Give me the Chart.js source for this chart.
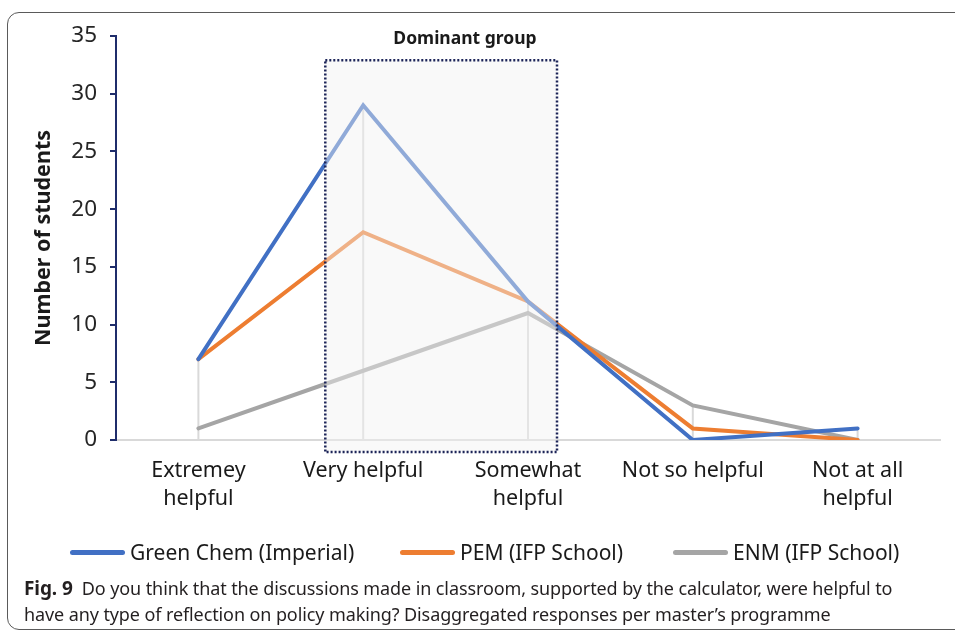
<!DOCTYPE html>
<html>
<head>
<meta charset="utf-8">
<script src="https://cdn.jsdelivr.net/npm/chart.js@4/dist/chart.umd.min.js"></script>
<style>
  html, body { margin: 0; padding: 0; background: #fff; width: 955px; height: 632px; overflow: hidden; }
  #frame { position: absolute; left: 7px; top: 12px; width: 980px; height: 618px; border: 1.5px solid #5a5a5a; border-radius: 12px; box-sizing: border-box; }
  #wrap { position: absolute; left: 0; top: 0; width: 955px; height: 575px; }
  #dom { position: absolute; left: 345px; width: 240px; top: 25px; text-align: center; font: bold 17.5px "Noto Sans", sans-serif; color: #1a1a1a; }
  #cap { position: absolute; left: 24px; top: 575px; font: 18px "Noto Sans", sans-serif; line-height: 26px; color: #231f20; white-space: nowrap; letter-spacing: -0.1px; }
  #cap b { font-weight: bold; font-size: 19px; }
  #legend { position: absolute; left: 0; top: 537px; width: 955px; height: 30px; font: 21px "Noto Sans", sans-serif; color: #1a1a1a; }
  .item { position: absolute; top: 0; display: flex; align-items: center; height: 30px; white-space: nowrap; }
  .sw { display: inline-block; width: 55px; height: 5px; border-radius: 3px; margin-right: 5px; }
</style>
</head>
<body>
<div id="frame"></div>
<div id="wrap"><canvas id="c" width="955" height="575"></canvas></div>
<div id="dom">Dominant group</div>
<div id="legend"></div>
<div id="cap"><b>Fig. 9</b>&nbsp; Do you think that the discussions made in classroom, supported by the calculator, were helpful to<br>have any type of reflection on policy making? Disaggregated responses per master’s programme</div>
<script>
const categories = [["Extremey", "helpful"], "Very helpful", ["Somewhat", "helpful"], "Not so helpful", ["Not at all", "helpful"]];
const seriesNames = ["Green Chem (Imperial)", "PEM (IFP School)", "ENM (IFP School)"];
const greenChem = [7, 29, 12, 0, 1];
const pem = [7, 18, 12, 1, 0];
const enm = [1, 6, 11, 3, 0];
const yTicks = [0, 5, 10, 15, 20, 25, 30, 35];

const FONT = '"Noto Sans", sans-serif';
const colors = ['#4170c4', '#ed7d31', '#a5a5a5'];
const legendX = [70, 400, 673];

const dropLines = {
  id: 'dropLines',
  beforeDatasetsDraw(chart) {
    const { ctx, scales: { x, y } } = chart;
    const n = chart.data.labels.length;
    ctx.save();
    ctx.strokeStyle = '#d9d9d9';
    ctx.lineWidth = 2;
    for (let i = 0; i < n; i++) {
      const m = Math.max(...chart.data.datasets.map(d => d.data[i]));
      const px = x.getPixelForValue(i);
      ctx.beginPath();
      ctx.moveTo(px, y.getPixelForValue(m));
      ctx.lineTo(px, y.getPixelForValue(0));
      ctx.stroke();
    }
    ctx.restore();
  }
};

const groupBox = {
  id: 'groupBox',
  afterDatasetsDraw(chart) {
    const { ctx, scales: { x, y } } = chart;
    const x0 = x.getPixelForValue(0.77), x1 = x.getPixelForValue(2.176);
    const y0 = y.getPixelForValue(32.9), y1 = y.getPixelForValue(-1.05);
    ctx.save();
    ctx.fillStyle = 'rgba(242,242,242,0.45)';
    ctx.fillRect(x0, y0, x1 - x0, y1 - y0);
    ctx.strokeStyle = '#1c2458';
    ctx.lineWidth = 2.5;
    ctx.setLineDash([2, 2]);
    ctx.strokeRect(x0, y0, x1 - x0, y1 - y0);
    ctx.restore();
  }
};

const chart = new Chart(document.getElementById('c'), {
  type: 'line',
  data: {
    labels: categories,
    datasets: [
      { label: seriesNames[0], data: greenChem, borderColor: colors[0], backgroundColor: colors[0] },
      { label: seriesNames[1], data: pem, borderColor: colors[1], backgroundColor: colors[1] },
      { label: seriesNames[2], data: enm, borderColor: colors[2], backgroundColor: colors[2] }
    ]
  },
  options: {
    responsive: false,
    animation: false,
    events: [],
    layout: { padding: { top: 36, left: 0, right: 15, bottom: 5 } },
    elements: {
      line: { borderWidth: 4, tension: 0, borderCapStyle: 'round' },
      point: { radius: 0 }
    },
    plugins: {
      tooltip: { enabled: false },
      legend: { display: false }
    },
    scales: {
      x: {
        offset: true,
        grid: { display: false, drawTicks: false },
        border: { color: '#d9d9d9', width: 2 },
        ticks: { font: { family: FONT, size: 21.5, lineHeight: 1.3 }, color: '#1a1a1a', padding: 17, maxRotation: 0, autoSkip: false },
        afterFit(s) { s.height = 130; }
      },
      y: {
        min: 0, max: 35,
        afterBuildTicks(s) { s.ticks = yTicks.map(v => ({ value: v })); },
        grid: { drawOnChartArea: false, drawTicks: true, tickLength: 6, color: '#1f2d6b', lineWidth: 2 },
        border: { color: '#1f2d6b', width: 2 },
        ticks: { font: { family: FONT, size: 22.5 }, color: '#262626', padding: 13 },
        title: { display: true, text: 'Number of students', font: { family: FONT, size: 21.5, weight: 'bold' }, color: '#1a1a1a', padding: { top: 31, bottom: 0 } },
        afterFit(s) { s.width = 116; }
      }
    }
  },
  plugins: [dropLines, groupBox]
});

// HTML legend built from the dataset names and colours
const lg = document.getElementById('legend');
chart.data.datasets.forEach((d, i) => {
  const it = document.createElement('div');
  it.className = 'item';
  it.style.left = legendX[i] + 'px';
  const sw = document.createElement('span');
  sw.className = 'sw';
  sw.style.background = d.borderColor;
  it.appendChild(sw);
  it.appendChild(document.createTextNode(d.label));
  lg.appendChild(it);
});
</script>
</body>
</html>
